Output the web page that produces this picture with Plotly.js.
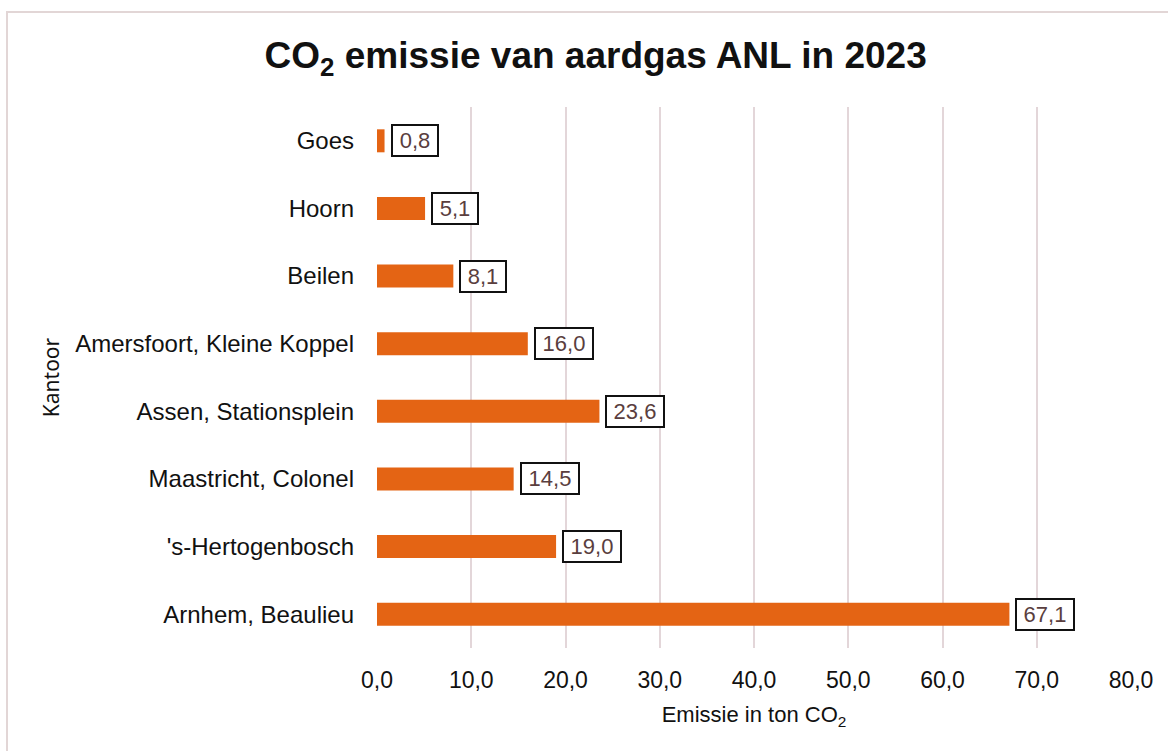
<!DOCTYPE html>
<html>
<head>
<meta charset="utf-8">
<script src="https://cdn.plot.ly/plotly-3.0.1.min.js"></script>
<style>
html,body{margin:0;padding:0;background:#fff;}
#wrap{position:relative;width:1168px;height:751px;}
#chart{position:absolute;left:0;top:0;width:1168px;height:751px;}
#frame{position:absolute;left:6px;top:11px;width:1170px;height:750px;border-left:2px solid #e2d6d6;border-top:2px solid #e2d6d6;pointer-events:none;}
</style>
</head>
<body>
<div id="wrap"><div id="chart"></div><div id="frame"></div></div>
<script>
const categories = ["Goes", "Hoorn", "Beilen", "Amersfoort, Kleine Koppel", "Assen, Stationsplein", "Maastricht, Colonel", "'s-Hertogenbosch", "Arnhem, Beaulieu"];
const values = [0.8, 5.1, 8.1, 16.0, 23.6, 14.5, 19.0, 67.1];
const valueLabels = ["0,8", "5,1", "8,1", "16,0", "23,6", "14,5", "19,0", "67,1"];
const tickValues = [0, 10, 20, 30, 40, 50, 60, 70, 80];
const tickLabels = ["0,0", "10,0", "20,0", "30,0", "40,0", "50,0", "60,0", "70,0", "80,0"];

const LABEL_SIZE = 22;
function labelWidth(s) {
  let w = 0;
  for (const ch of s) w += (ch === ',' ? 0.278 : 0.556) * LABEL_SIZE;
  return Math.round(w + 7);
}

const trace = {
  type: 'bar',
  orientation: 'h',
  x: values,
  y: categories,
  width: 0.34,
  marker: {color: '#E46414'},
  hoverinfo: 'x+y'
};

const annotations = values.map((v, i) => ({
  x: v, y: categories[i], xref: 'x', yref: 'y',
  text: valueLabels[i], showarrow: false,
  xanchor: 'left', yanchor: 'middle', xshift: 6,
  width: labelWidth(valueLabels[i]), height: 23, align: 'center', valign: 'middle',
  font: {family: 'Liberation Sans, Arial, sans-serif', size: LABEL_SIZE, color: '#5a3e3e'},
  bgcolor: '#ffffff', bordercolor: '#111111', borderwidth: 2, borderpad: 3
}));

const layout = {
  width: 1168, height: 751,
  margin: {l: 377, r: 37, t: 107, b: 103},
  paper_bgcolor: '#ffffff', plot_bgcolor: '#ffffff',
  font: {family: 'Liberation Sans, Arial, sans-serif', size: 24, color: '#111111'},
  title: {
    text: '<b>CO<sub>2</sub> emissie van aardgas ANL in 2023</b>',
    font: {family: 'Liberation Sans, Arial, sans-serif', size: 37, color: '#111111'},
    x: 0.51, xanchor: 'center', y: 0.927, yanchor: 'middle'
  },
  xaxis: {
    range: [0, 80], tickvals: tickValues, ticktext: tickLabels,
    showgrid: true, gridcolor: '#e3d6d9', gridwidth: 2,
    zeroline: false, showline: false, ticks: '', ticklabelstandoff: 16,
    tickfont: {size: 23, color: '#111111'},
    title: {text: 'Emissie in ton CO<sub>2</sub>', font: {size: 22, color: '#111111'}, standoff: 14},
    fixedrange: true
  },
  yaxis: {
    type: 'category', categoryorder: 'array', categoryarray: categories,
    autorange: 'reversed', showgrid: false, zeroline: false, showline: false,
    ticks: '', ticklabelstandoff: 22,
    tickfont: {size: 24, color: '#111111'},
    title: {text: 'Kantoor', font: {family: 'Noto Sans, Open Sans, sans-serif', size: 21, color: '#111111'}, standoff: 9},
    fixedrange: true
  },
  annotations: annotations,
  showlegend: false,
  bargap: 0.66
};

Plotly.newPlot('chart', [trace], layout, {displayModeBar: false, staticPlot: true});
</script>
</body>
</html>
